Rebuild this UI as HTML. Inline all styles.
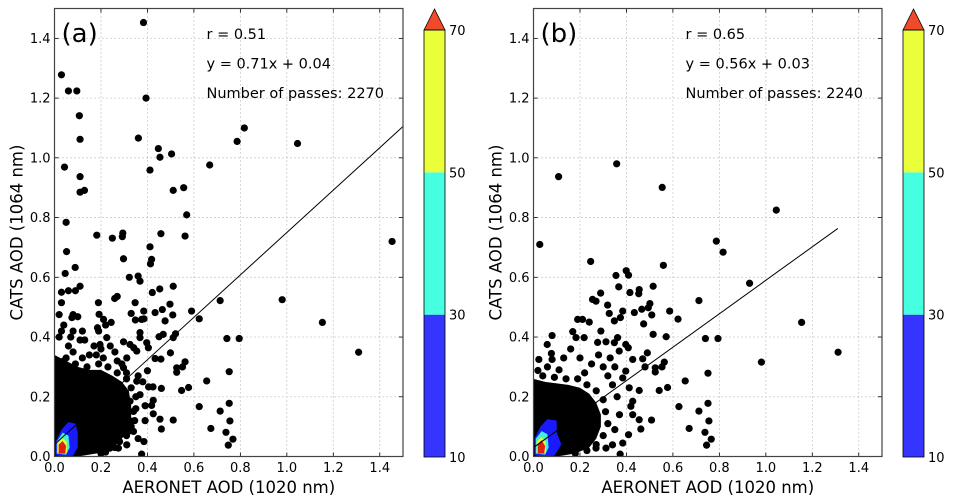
<!DOCTYPE html>
<html><head><meta charset="utf-8">
<style>
html,body{margin:0;padding:0;background:#fff;}
svg{display:block;font-family:"DejaVu Sans","Liberation Sans",sans-serif;}
</style></head>
<body>
<svg id="fig" width="953" height="503" viewBox="0 0 953 503"></svg>
<script>
// ---- data ----
const xTicks = [0.0,0.2,0.4,0.6,0.8,1.0,1.2,1.4];
const yTicks = [0.0,0.2,0.4,0.6,0.8,1.0,1.2,1.4];
const cbarLevels = [10,30,50,70];
const cbarColors = ["#3535ff","#45ffe0","#eaff3a"];
const panelLabels = ["(a)","(b)"];
const rValues = ["0.51","0.65"];
const slopes = [0.71,0.56];
const intercepts = [0.04,0.03];
const fitXmax = [1.5,1.31];
const passes = [2270,2240];

const outliersA = [[0.383,1.453],[0.03,1.278],[0.06,1.224],[0.096,1.224],[0.394,1.2],[0.107,1.141],[0.11,1.062],[0.361,1.066],[0.043,0.969],[0.11,0.937],[0.11,0.885],[0.129,0.891],[0.447,1.031],[0.454,1.002],[0.504,1.013],[0.411,0.959],[0.511,0.891],[0.556,0.9],[0.569,0.809],[0.562,0.738],[0.458,0.746],[0.668,0.976],[0.786,1.055],[0.817,1.1],[1.046,1.048],[1.453,0.72],[0.98,0.525],[1.153,0.449],[1.309,0.349],[0.713,0.522],[0.623,0.461],[0.742,0.395],[0.795,0.395],[0.752,0.284],[0.623,0.167],[0.713,0.152],[0.752,0.178],[0.755,0.119],[0.673,0.094],[0.738,0.081],[0.768,0.058],[0.748,0.038],[0.655,0.253],[0.59,0.487],[0.05,0.784],[0.052,0.686],[0.046,0.613],[0.089,0.633],[0.182,0.741],[0.249,0.731],[0.294,0.748],[0.292,0.736],[0.297,0.662],[0.411,0.702],[0.418,0.66],[0.413,0.645],[0.322,0.6],[0.36,0.604],[0.368,0.587],[0.11,0.57],[0.511,0.57],[0.421,0.549],[0.453,0.561],[0.497,0.51],[0.509,0.474],[0.259,0.529],[0.27,0.536],[0.189,0.515],[0.347,0.515],[0.384,0.487],[0.385,0.461],[0.433,0.482],[0.464,0.492],[0.476,0.454],[0.562,0.317],[0.551,0.3],[0.526,0.297],[0.526,0.282],[0.458,0.326],[0.499,0.347],[0.511,0.398],[0.521,0.411],[0.468,0.409],[0.45,0.401],[0.577,0.231],[0.547,0.221],[0.46,0.228],[0.424,0.233],[0.405,0.233],[0.511,0.122],[0.454,0.125],[0.46,0.092],[0.425,0.143],[0.418,0.171],[0.425,0.188],[0.385,0.05],[0.375,0.008],[0.4,0.287],[0.433,0.328],[0.404,0.364],[0.397,0.381],[0.368,0.415],[0.368,0.398],[0.341,0.364],[0.354,0.353],[0.297,0.384],[0.325,0.375],[0.348,0.457],[0.375,0.459],[0.33,0.479],[0.244,0.449],[0.211,0.459],[0.192,0.476],[0.185,0.431],[0.225,0.398],[0.196,0.375],[0.289,0.224],[0.325,0.185],[0.34,0.151],[0.332,0.118],[0.318,0.084],[0.311,0.039],[0.275,0.028],[0.239,0.028],[0.368,0.207],[0.354,0.252],[0.34,0.084],[0.297,0.297],[0.311,0.33],[0.03,0.55],[0.03,0.515],[0.02,0.475],[0.04,0.44],[0.03,0.42],[0.06,0.555],[0.09,0.555],[0.075,0.465],[0.08,0.475],[0.1,0.468],[0.08,0.42],[0.07,0.4],[0.11,0.39],[0.06,0.37],[0.08,0.35],[0.13,0.39],[0.15,0.34],[0.18,0.34],[0.2,0.36],[0.22,0.44],[0.19,0.42],[0.17,0.37],[0.12,0.42],[0.05,0.33],[0.02,0.40],[0.26,0.35],[0.27,0.32],[0.24,0.37],
 [0.04,0.32],[0.09,0.31],[0.14,0.30],[0.19,0.31],[0.23,0.30],[0.27,0.28],[0.31,0.26],[0.33,0.23],[0.35,0.2],[0.35,0.16],[0.345,0.12],[0.33,0.1],[0.31,0.07],[0.28,0.05],[0.26,0.03],[0.22,0.015],[0.31,0.28],[0.29,0.31],[0.21,0.33],[0.12,0.33],[0.36,0.27],[0.38,0.25],[0.39,0.17],[0.39,0.12],[0.36,0.06],[0.2,0.01]];
const denseA = [[0,0],[0,0.34],[0.05,0.32],[0.1,0.3],[0.15,0.29],[0.2,0.29],[0.25,0.27],[0.29,0.25],[0.32,0.22],[0.33,0.17],[0.33,0.12],[0.31,0.08],[0.28,0.05],[0.24,0.025],[0.18,0.01],[0.1,0]];

const outliersB = [[0.027,0.71],[0.108,0.937],[0.358,0.98],[0.554,0.901],[1.045,0.825],[0.787,0.721],[0.816,0.684],[0.93,0.58],[1.311,0.349],[1.154,0.449],[0.981,0.316],[0.559,0.64],[0.246,0.653],[0.399,0.622],[0.409,0.607],[0.355,0.606],[0.367,0.568],[0.515,0.57],[0.415,0.549],[0.455,0.559],[0.453,0.545],[0.712,0.522],[0.622,0.46],[0.586,0.487],[0.74,0.395],[0.794,0.395],[0.751,0.279],[0.626,0.167],[0.712,0.152],[0.755,0.119],[0.751,0.178],[0.67,0.094],[0.738,0.081],[0.765,0.058],[0.745,0.038],[0.653,0.253],[0.508,0.122],[0.373,0.008],[0.563,0.316],[0.553,0.3],[0.524,0.297],[0.524,0.283],[0.577,0.231],[0.541,0.221],[0.515,0.409],[0.571,0.401],[0.501,0.512],[0.494,0.498],[0.509,0.474],[0.474,0.444],[0.466,0.493],[0.434,0.482],[0.384,0.487],[0.374,0.465],[0.348,0.454],[0.319,0.507],[0.326,0.479],[0.289,0.547],[0.254,0.526],[0.269,0.52],[0.24,0.45],[0.19,0.459],[0.211,0.459],[0.169,0.418],[0.183,0.398],[0.218,0.398],[0.08,0.405],[0.059,0.375],[0.023,0.325],[0.019,0.288],[0.077,0.345],[0.08,0.325],[0.29,0.42],[0.276,0.382],[0.312,0.384],[0.348,0.381],[0.362,0.398],[0.369,0.353],[0.397,0.375],[0.408,0.364],[0.427,0.325],[0.47,0.327],[0.48,0.3],[0.49,0.347],[0.397,0.286],[0.384,0.263],[0.412,0.23],[0.455,0.221],[0.427,0.185],[0.419,0.168],[0.427,0.14],[0.455,0.123],[0.462,0.092],[0.409,0.073],[0.384,0.045],[0.34,0.039],[0.312,0.028],[0.269,0.028],[0.13,0.33],[0.16,0.36],[0.2,0.33],[0.25,0.31],[0.28,0.34],[0.33,0.33],[0.35,0.3],[0.3,0.3],
 [0.04,0.27],[0.09,0.265],[0.14,0.26],[0.19,0.26],[0.23,0.24],[0.27,0.22],[0.3,0.19],[0.31,0.15],[0.32,0.11],[0.3,0.07],[0.27,0.04],[0.23,0.02],[0.34,0.24],[0.32,0.27],[0.36,0.2],[0.37,0.14],[0.35,0.09],[0.11,0.29],[0.06,0.3],[0.22,0.28],[0.18,0.01]];
const denseB = [[0,0],[0,0.26],[0.05,0.25],[0.1,0.245],[0.15,0.24],[0.2,0.23],[0.24,0.21],[0.27,0.18],[0.29,0.14],[0.29,0.1],[0.27,0.06],[0.24,0.03],[0.18,0.01],[0.1,0]];

const contourBlueA = [[0.005,0.005],[0.005,0.05],[0.03,0.09],[0.06,0.115],[0.09,0.11],[0.1,0.08],[0.1,0.03],[0.08,0.003],[0.03,0]];
const contourCyanA = [[0.01,0.01],[0.01,0.05],[0.035,0.08],[0.06,0.07],[0.065,0.03],[0.05,0.006]];
const contourYellowA = [[0.014,0.01],[0.014,0.045],[0.035,0.062],[0.052,0.05],[0.054,0.012]];
const contourRedA = [[0.018,0.01],[0.018,0.04],[0.035,0.052],[0.05,0.035],[0.046,0.01]];
const contourBlueB = [[0.005,0.005],[0.005,0.06],[0.03,0.1],[0.06,0.125],[0.1,0.12],[0.1,0.08],[0.12,0.04],[0.09,0.003],[0.03,0]];
const contourCyanB = [[0.01,0.01],[0.01,0.06],[0.035,0.085],[0.06,0.075],[0.065,0.03],[0.05,0.006]];
const contourYellowB = [[0.014,0.01],[0.014,0.05],[0.035,0.065],[0.052,0.05],[0.054,0.012]];
const contourRedB = [[0.018,0.01],[0.018,0.042],[0.035,0.055],[0.05,0.035],[0.046,0.01]];

const panels = [
 {x0:54.5,x1:403,cb:424,pts:outliersA,dense:denseA,cont:[contourBlueA,contourCyanA,contourYellowA,contourRedA]},
 {x0:533.5,x1:882,cb:903,pts:outliersB,dense:denseB,cont:[contourBlueB,contourCyanB,contourYellowB,contourRedB]}
];
const contColors = ["#1a1aff","#40f0d8","#e8ff30","#e02010"];

// ---- drawing ----
const NS="http://www.w3.org/2000/svg";
const svg=document.getElementById('fig');
function mk(tag,attrs,parent){const e=document.createElementNS(NS,tag);for(const k in attrs)e.setAttribute(k,attrs[k]);(parent||svg).appendChild(e);return e;}
const yTop=8.5,yBot=456.5;

panels.forEach((p,pi)=>{
  const g=mk('g',{});
  
  
  const sx=v=>p.x0+(p.x1-p.x0)*v/1.5;
  const sy=v=>yBot-(yBot-yTop)*v/1.5;
  xTicks.forEach(t=>{
    const l=mk('line',{x1:sx(t),x2:sx(t),y1:yTop,y2:yBot,stroke:'#999','stroke-width':0.8,'stroke-dasharray':'1,3'},g);
    
    
    const tl=mk('text',{x:sx(t),y:472,'font-size':13,'text-anchor':'middle',fill:'#000'},g);
    tl.textContent=t.toFixed(1);
    
    
    mk('line',{x1:sx(t),x2:sx(t),y1:yBot,y2:yBot-4,stroke:'#000','stroke-width':0.8},g);
    mk('line',{x1:sx(t),x2:sx(t),y1:yTop,y2:yTop+4,stroke:'#000','stroke-width':0.8},g);
  });
  yTicks.forEach(t=>{
    const l=mk('line',{x1:p.x0,x2:p.x1,y1:sy(t),y2:sy(t),stroke:'#999','stroke-width':0.8,'stroke-dasharray':'1,3'},g);
    
    
    const tl=mk('text',{x:p.x0-4,y:sy(t)+4.5,'font-size':13,'text-anchor':'end',fill:'#000'},g);
    tl.textContent=t.toFixed(1);
    
    
    mk('line',{x1:p.x0,x2:p.x0+4,y1:sy(t),y2:sy(t),stroke:'#000','stroke-width':0.8},g);
    mk('line',{x1:p.x1,x2:p.x1-4,y1:sy(t),y2:sy(t),stroke:'#000','stroke-width':0.8},g);
  });
  const cid='clip'+pi;
  const cp=mk('clipPath',{id:cid},g);
  mk('rect',{x:p.x0,y:yTop,width:p.x1-p.x0,height:yBot-yTop},cp);
  const pg=mk('g',{'clip-path':'url(#'+cid+')'},g);
  const dp=mk('polygon',{points:p.dense.map(d=>sx(d[0])+','+sy(d[1])).join(' '),fill:'#000'},pg);
  
  
  p.pts.forEach(d=>{
    const c=mk('circle',{cx:sx(d[0]),cy:sy(d[1]),r:3.6,fill:'#000'},pg);
    
    
  });
  p.cont.forEach((poly,ci)=>{
    const c=mk('polygon',{points:poly.map(d=>sx(d[0])+','+sy(d[1])).join(' '),fill:contColors[ci]},pg);
    
    
  });
  const fl=mk('line',{x1:sx(0),y1:sy(intercepts[pi]),x2:sx(fitXmax[pi]),y2:sy(slopes[pi]*fitXmax[pi]+intercepts[pi]),stroke:'#000','stroke-width':1},pg);
  
  
  const fr=mk('rect',{x:p.x0,y:yTop,width:p.x1-p.x0,height:yBot-yTop,fill:'none',stroke:'#444','stroke-width':1.2},g);
  
  
  const pl=mk('text',{x:p.x0+7,y:42,'font-size':26,fill:'#000'},g);
  pl.textContent=panelLabels[pi];
  
  
  const tx=p.x0+152;
  const lines=['r = '+rValues[pi],'y = '+slopes[pi].toFixed(2)+'x + '+intercepts[pi].toFixed(2),'Number of passes: '+passes[pi]];
  const names=['correlation-text','regression-equation','passes-count'];
  lines.forEach((s,i)=>{
    const t=mk('text',{x:tx,y:39+i*29.5,'font-size':14.5,fill:'#000'},g);
    t.textContent=s;
    
    
  });
  const xt=mk('text',{x:(p.x0+p.x1)/2,y:493,'font-size':16.5,'text-anchor':'middle',fill:'#000'},g);
  xt.textContent='AERONET AOD (1020 nm)';
  
  
  const yt=mk('text',{x:0,y:0,'font-size':16.5,'text-anchor':'middle',fill:'#000',transform:'translate('+(p.x0-32)+','+((yTop+yBot)/2)+') rotate(-90)'},g);
  yt.textContent='CATS AOD (1064 nm)';
  
  
  const cg=mk('g',{},g);
  
  
  const cbTop=30,cbBot=457,cw=21;
  const cy=v=>cbBot-(cbBot-cbTop)*(v-cbarLevels[0])/(cbarLevels[cbarLevels.length-1]-cbarLevels[0]);
  for(let i=0;i<cbarColors.length;i++){
    mk('rect',{x:p.cb,y:cy(cbarLevels[i+1]),width:cw,height:cy(cbarLevels[i])-cy(cbarLevels[i+1]),fill:cbarColors[i]},cg);
  }
  mk('polygon',{points:p.cb+','+cbTop+' '+(p.cb+cw/2)+',9 '+(p.cb+cw)+','+cbTop,fill:'#f04a2c',stroke:'#000','stroke-width':0.8},cg);
  mk('rect',{x:p.cb,y:cbTop,width:cw,height:cbBot-cbTop,fill:'none',stroke:'#000','stroke-width':0.8},cg);
  cbarLevels.forEach(v=>{
    const t=mk('text',{x:p.cb+cw+4,y:cy(v)+5,'font-size':13,fill:'#000'},cg);
    t.textContent=v;
    
    
  });
});
</script>
</body></html>
